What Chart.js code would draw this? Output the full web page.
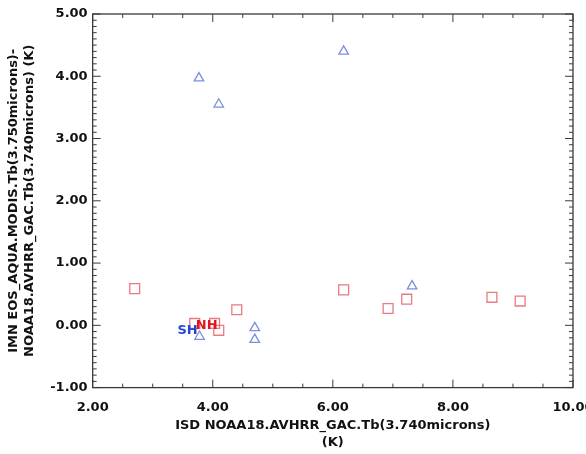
<!DOCTYPE html>
<html>
<head>
<meta charset="utf-8">
<script src="https://cdn.jsdelivr.net/npm/chart.js@4/dist/chart.umd.min.js"></script>
<style>
  html, body { margin: 0; padding: 0; background: #fff; }
  #wrap { width: 586px; height: 454px; }
</style>
</head>
<body>
<div id="wrap"><canvas id="plot"></canvas></div>
<script>
// NH (red squares)
const nhX = [2.70, 3.70, 4.03, 4.10, 4.40, 6.18, 6.92, 7.23, 8.65, 9.12]
const nhY = [0.59, 0.03, 0.03, -0.08, 0.25, 0.57, 0.27, 0.42, 0.45, 0.39]
// SH (blue triangles)
const shX = [3.77, 4.10, 6.18, 7.32, 4.70, 4.70, 3.78]
const shY = [3.97, 3.55, 4.40, 0.63, -0.04, -0.23, -0.18]

// region labels
const tagText = ['SH', 'NH']
const tagX = [3.58, 3.90]
const tagY = [-0.08, 0.00]
const tagColor = ['#2446d8', '#e2141e']

const xTitle = ['ISD NOAA18.AVHRR_GAC.Tb(3.740microns)', '(K)']
const yTitle = ['IMN EOS_AQUA.MODIS.Tb(3.750microns)-', 'NOAA18.AVHRR_GAC.Tb(3.740microns) (K)']

const toPoints = (xs, ys) => xs.map((v, i) => ({x: v, y: ys[i]}))

const font = 'DejaVu Sans'
const axisColor = '#3a3a3a'

// box + inward ticks on all four sides
const frame = {
    id: 'frame',
    afterDatasetsDraw(chart) {
        const {ctx, chartArea: a, scales: {x, y}} = chart
        ctx.save()
        ctx.strokeStyle = axisColor
        ctx.lineWidth = 1.3
        ctx.strokeRect(a.left, a.top, a.right - a.left, a.bottom - a.top)
        ctx.lineWidth = 1
        ctx.beginPath()
        for (let i = 0; i <= 16; i++) {
            const v = 2 + i * 0.5
            const px = x.getPixelForValue(v)
            const len = i % 4 === 0 ? 8 : 4
            ctx.moveTo(px, a.bottom); ctx.lineTo(px, a.bottom - len)
            ctx.moveTo(px, a.top); ctx.lineTo(px, a.top + len)
        }
        for (let i = 0; i <= 60; i++) {
            const v = -1 + i * 0.1
            const py = y.getPixelForValue(v)
            const len = i % 10 === 0 ? 8 : 4
            ctx.moveTo(a.left, py); ctx.lineTo(a.left + len, py)
            ctx.moveTo(a.right, py); ctx.lineTo(a.right - len, py)
        }
        ctx.stroke()
        ctx.font = 'bold 13px "' + font + '"'
        ctx.textAlign = 'center'
        ctx.textBaseline = 'middle'
        tagText.forEach((t, i) => {
            ctx.fillStyle = tagColor[i]
            ctx.fillText(t, x.getPixelForValue(tagX[i]), y.getPixelForValue(tagY[i]))
        })
        ctx.restore()
    }
}

new Chart('plot', {
    type: 'scatter',
    data: {
        datasets: [{
            label: 'NH',
            data: toPoints(nhX, nhY),
            pointStyle: 'rect',
            pointRadius: 7,
            borderColor: '#e87a80',
            backgroundColor: 'rgba(0,0,0,0)',
            borderWidth: 1.3
        }, {
            label: 'SH',
            data: toPoints(shX, shY),
            pointStyle: 'triangle',
            pointRadius: 5.5,
            borderColor: '#7c8ee0',
            backgroundColor: 'rgba(0,0,0,0)',
            borderWidth: 1.3
        }]
    },
    options: {
        responsive: true,
        maintainAspectRatio: false,
        animation: false,
        layout: {padding: {top: 14, right: 13, left: 6, bottom: 3}},
        plugins: {legend: {display: false}, tooltip: {enabled: false}},
        scales: {
            x: {
                min: 2, max: 10,
                grid: {display: false, drawTicks: false},
                border: {display: false},
                ticks: {
                    stepSize: 2,
                    padding: 12,
                    color: '#111',
                    font: {family: font, size: 13, weight: 'bold'},
                    callback: v => v.toFixed(2)
                },
                title: {
                    display: true,
                    text: xTitle,
                    color: '#111',
                    padding: {top: -10, bottom: 0},
                    font: {family: font, size: 13, weight: 'bold', lineHeight: 1.3}
                },
                afterFit: s => { s.paddingRight = 0 }
            },
            y: {
                min: -1, max: 5,
                grid: {display: false, drawTicks: false},
                border: {display: false},
                ticks: {
                    stepSize: 1,
                    padding: 5,
                    color: '#111',
                    font: {family: font, size: 13, weight: 'bold'},
                    callback: v => v.toFixed(2)
                },
                title: {
                    display: true,
                    text: yTitle,
                    color: '#111',
                    padding: {top: 0, bottom: 8},
                    font: {family: font, size: 13, weight: 'bold', lineHeight: 1.2}
                }
            }
        }
    },
    plugins: [frame]
})
</script>
</body>
</html>
